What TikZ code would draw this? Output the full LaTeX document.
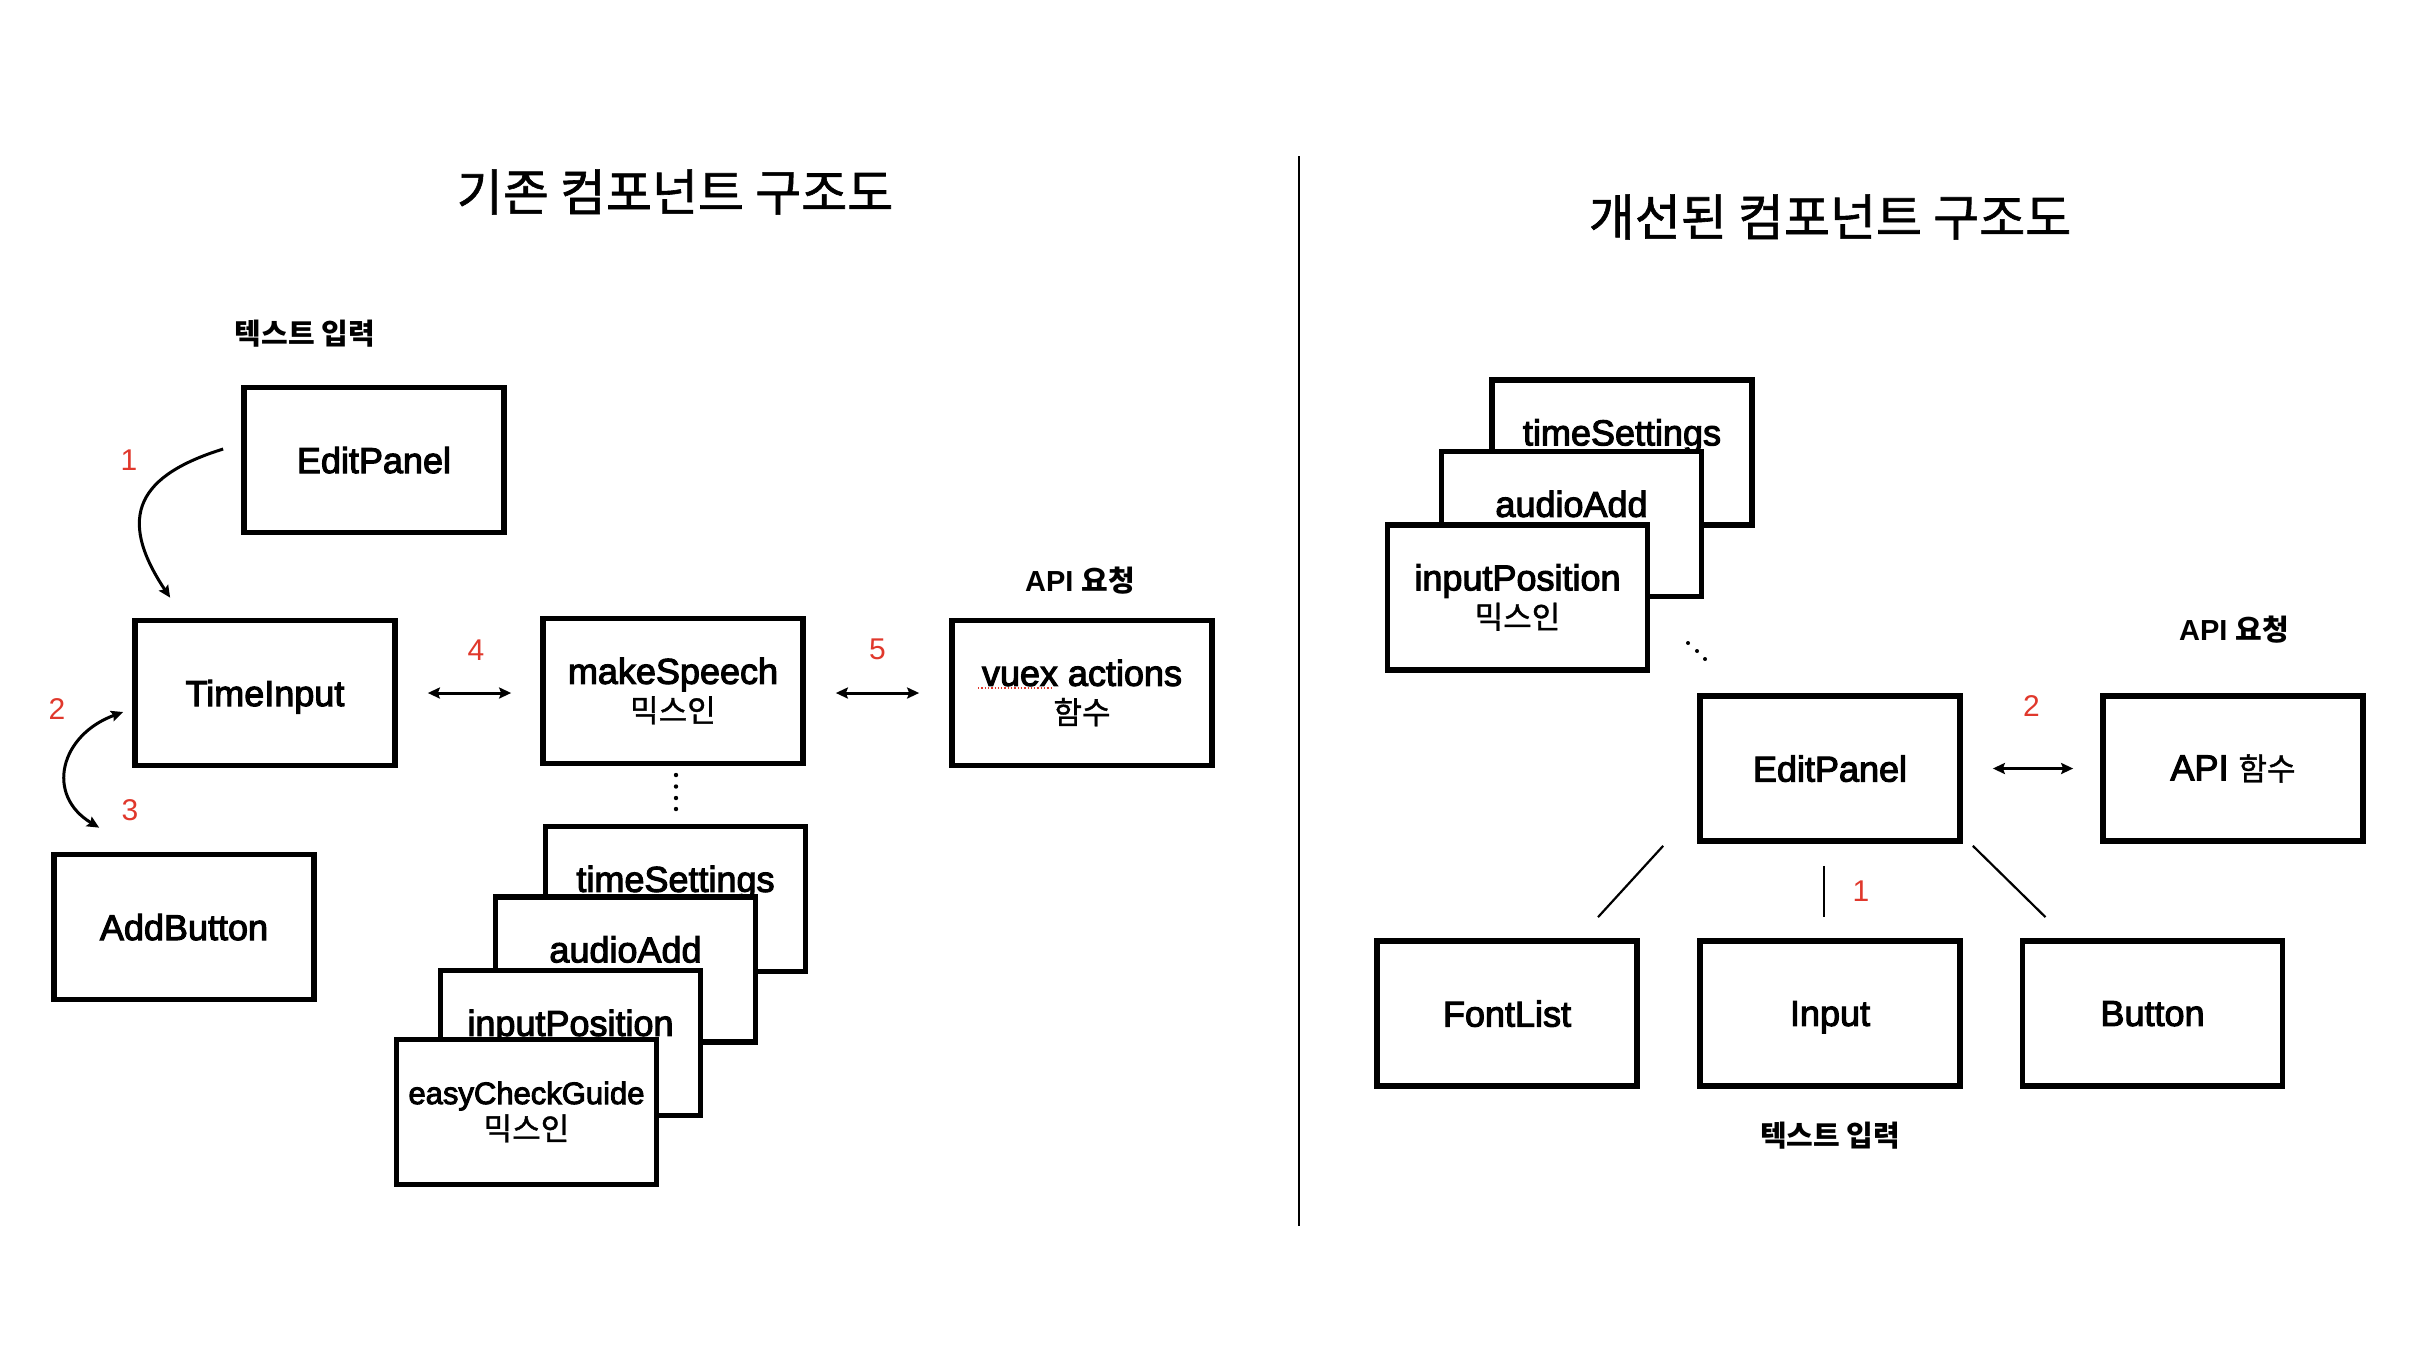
\documentclass[tikz,border=0pt]{standalone}
\usepackage{fontspec}
\setmainfont{Liberation Sans}
\newfontfamily\krfont{Noto Sans CJK KR}
\newfontface\krmed{Noto Sans CJK KR}[FakeBold=1.2]
\newfontface\medfont{Liberation Sans}[FakeBold=3]
\usetikzlibrary{arrows.meta,positioning,calc}

\definecolor{numred}{HTML}{E0382C}
\newcommand\krbox{\krmed\fontsize{31}{38}\selectfont}

\tikzset{
  comp/.style={draw,line width=5.7pt,fill=white,minimum width=260pt,minimum height=145pt,
    inner sep=0pt,align=center,font=\medfont\fontsize{36}{38}\selectfont},
  one/.style={text depth=0pt},
  num/.style={text=numred,font=\fontsize{30}{32}\selectfont},
  head/.style={font=\krmed\fontsize{50}{54}\selectfont},
  tag/.style={font=\bfseries\fontsize{29}{32}\selectfont},
  flow/.style={line width=3pt,>={Stealth[length=12pt,width=11pt,inset=2pt]}},
  link/.style={line width=2.2pt}
}

\begin{document}
\begin{tikzpicture}[x=1pt,y=-1pt]
    \useasboundingbox (0,0) rectangle (2416,1350);

    % titles
    \node[head] (oldtitle) at (675,192) {기존 컴포넌트 구조도};
    \node[head] (newtitle) at (1830,217) {개선된 컴포넌트 구조도};

    \draw[link] (1299,156) -- (1299,1226);

    % existing structure
    \node[tag] (oldtag) at (305,334) {\krfont 텍스트 입력};
    \node[comp,one] (ep1) at (374,460) {EditPanel};
    \node[comp,one] (timeinput) at (265,693) {TimeInput};
    \node[comp,one] (addbtn) at (184,927) {AddButton};
    \node[comp] (speech) at (673,691) {makeSpeech\\{\krbox 믹스인}};
    \node[tag] (oldapi) at (1080,581) {API {\krfont 요청}};
    \node[comp] (vuex) at (1082,693) {vuex actions\\{\krbox 함수}};
    \draw[numred,dotted,line width=1.3pt] ($(vuex.center)+(-104,-5)$) -- ++(75,0);

    % mixins
    \node[comp] (lts) at (675.5,899) {timeSettings\\\phantom{\krbox 믹스인}};
    \node[comp] (laa) at (625.5,969.5) {audioAdd\\\phantom{\krbox 믹스인}};
    \node[comp] (lip) at (570.5,1043) {inputPosition\\\phantom{\krbox 믹스인}};
    \node[comp,font=\medfont\fontsize{31}{36}\selectfont] (lec) at (526.5,1112) {easyCheckGuide\\{\krbox 믹스인}};
    \foreach \y in {775,786.5,798,809}
        \fill (676,\y) circle (2.2pt);

    \node[num] (n1) at (129,460) {1};
    \node[num] (n2) at (57,709) {2};
    \node[num] (n3) at (130,810) {3};
    \draw[flow,->] ($(ep1.west)+(-18,-11)$) .. controls (140,475) and (115,515) .. ($(timeinput.north west)+(38,-20)$);
    \draw[flow,<->] ($(timeinput.west)+(-9,19)$) .. controls (60,735) and (45,795) .. ($(addbtn.north west)+(48,-24)$);
    \draw[flow,<->,shorten <=30pt,shorten >=29pt] (timeinput.east) -- (timeinput.east -| speech.west)
        node[num,midway,yshift=43pt,xshift=7pt] (n4) {4};
    \draw[flow,<->,shorten <=30pt,shorten >=30pt] (speech.east |- vuex.west) -- (vuex.west)
        node[num,midway,yshift=44pt] (n5) {5};

    % improved structure
    \node[comp] (rts) at (1622,452.5) {timeSettings\\\phantom{\krbox 믹스인}};
    \node[comp] (raa) at (1571.5,524) {audioAdd\\\phantom{\krbox 믹스인}};
    \node[comp] (rip) at (1517.5,597.5) {inputPosition\\{\krbox 믹스인}};
    \foreach \p in {(1688,643),(1697,651),(1705,659)}
        \fill \p circle (2pt);

    \node[comp,one] (ep2) at (1830,768.5) {EditPanel};
    \node[tag] (newapi) at (2234,630) {API {\krfont 요청}};
    \node[comp] (apifn) at (2233,768.5) {API {\krbox 함수}};
    \draw[flow,<->,shorten <=30pt,shorten >=27pt] (ep2.east) -- (apifn.west)
        node[num,midway,yshift=62pt] (m2) {2};

    \node[comp,one] (fontlist) at (1507,1013.5) {FontList};
    \node[comp,one] (input) at (1830,1013.5) {Input};
    \node[comp,one] (button) at (2152.5,1013.5) {Button};
    \node[tag] (newtag) at (1830,1136) {\krfont 텍스트 입력};

    \draw[link] ($(ep2.south west)+(-34,2)$) -- ($(fontlist.north)+(91,-21)$);
    \draw[link] ($(ep2.south)+(-6,22)$) -- ($(input.north)+(-6,-21)$)
        node[num,midway,xshift=37pt] (m1) {1};
    \draw[link] ($(ep2.south east)+(10,2)$) -- ($(button.north)+(-107,-21)$);
\end{tikzpicture}
\end{document}
